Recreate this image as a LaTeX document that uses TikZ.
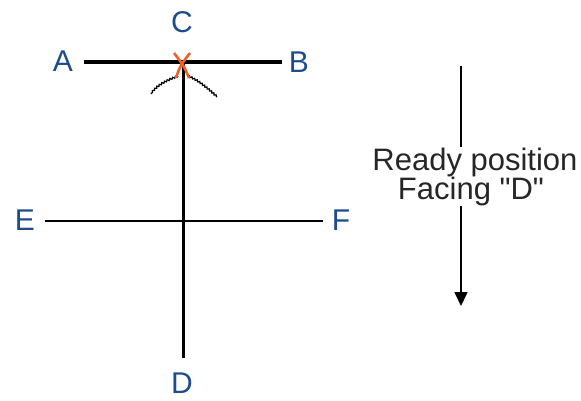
\documentclass[tikz,border=0pt]{standalone}
\usepackage{fontspec}
\setmainfont{Liberation Sans}
\newfontfamily\plainsans{Liberation Sans}
\usetikzlibrary{arrows.meta,decorations.pathmorphing}
\definecolor{lblblue}{RGB}{28,76,140}
\definecolor{xorange}{RGB}{236,98,40}
\tikzset{
  lbl/.style={text=lblblue,font=\fontsize{30}{32}\selectfont,inner sep=0pt},
  note/.style={text=black!85,font=\plainsans\fontsize{31}{28}\selectfont,inner sep=0pt,align=center},
  thickline/.style={line width=4pt},
  medline/.style={line width=3pt},
  thinline/.style={line width=2pt},
  foot/.style={line width=1.2pt,decorate,decoration={snake,segment length=3pt,amplitude=0.8pt}},
}
\begin{document}
\begin{tikzpicture}[x=1pt,y=-1pt]
\useasboundingbox (0,0) rectangle (581,400);
% coordinates
\coordinate (a) at (84,62);
\coordinate (b) at (282,62);
\coordinate (c) at (183,62);
\coordinate (d) at (183,358);
\coordinate (e) at (45,221);
\coordinate (f) at (323,221);
% labels
\node[lbl] (la) at (63,61) {A};
\node[lbl] (lb) at (299,62) {B};
\node[lbl] (lc) at (182,22) {C};
\node[lbl] (le) at (25,220) {E};
\node[lbl] (lf) at (341,220) {F};
\node[lbl] (ld) at (182,383) {D};
% lines
\draw[thinline] (e) -- (f);
\draw[medline] (c) -- (d);
\draw[thickline] (a) -- (b);
% feet
\coordinate (fl1) at (178,76);
\coordinate (fl2) at (151,94);
\coordinate (fr1) at (188,76);
\coordinate (fr2) at (217,97);
\draw[foot] (fl1) .. controls (168,80) and (158,84) .. (fl2);
\draw[foot] (fr1) .. controls (198,80) and (207,88) .. (fr2);
% orange X
\coordinate (x1) at (174,53);
\coordinate (x2) at (190,53);
\coordinate (x3) at (176,78);
\coordinate (x4) at (189,78);
\draw[xorange,line width=2.6pt] (x1) .. controls (184,66) .. (x4);
\draw[xorange,line width=2.6pt] (x2) .. controls (180,66) .. (x3);
% facing arrow
\node[note] (txt1) at (475,162) {Ready position};
\node[note] (txt2) at (471,191) {Facing "D"};
\coordinate (top) at (461,66);
\coordinate (tip) at (461,306);
\draw[line width=1.6pt] (top) -- (txt1.north -| top);
\draw[line width=1.6pt,-{Triangle[length=14pt,width=13pt]}] (txt2.south -| top) -- (tip);
\end{tikzpicture}
\end{document}
